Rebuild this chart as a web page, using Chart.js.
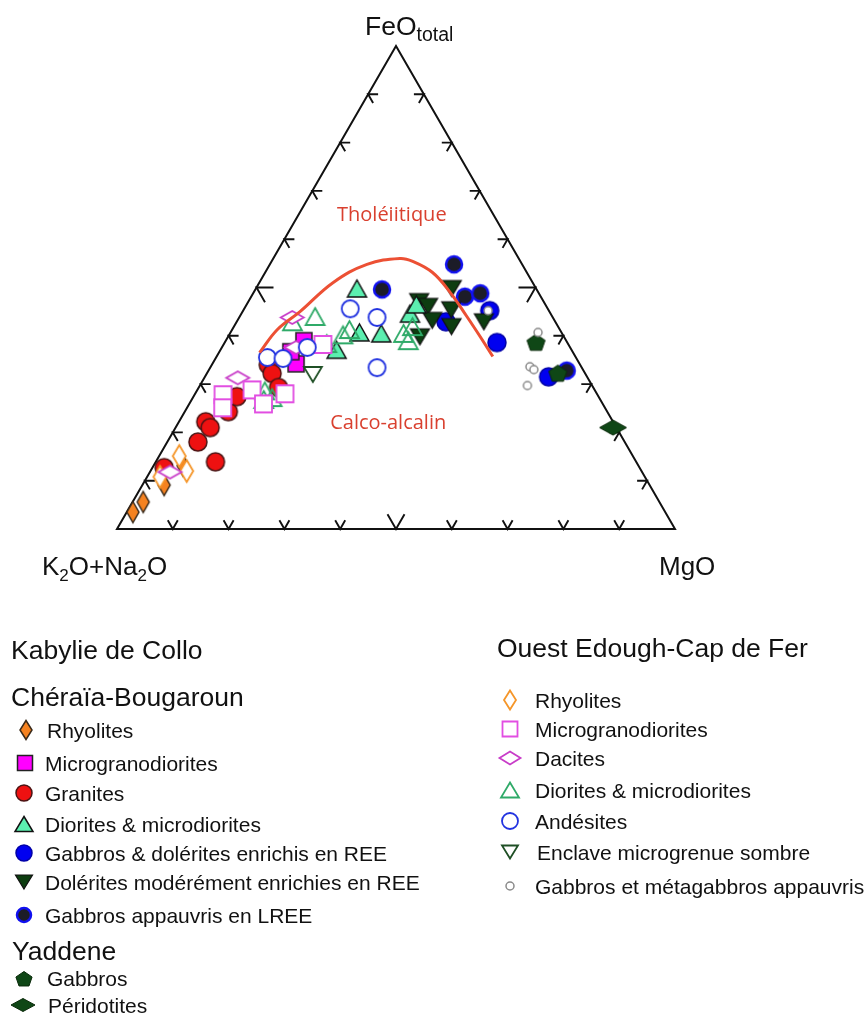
<!DOCTYPE html>
<html>
<head>
<meta charset="utf-8">
<script src="https://cdn.jsdelivr.net/npm/chart.js@4.4.1/dist/chart.umd.min.js"></script>
<style>
  html, body { margin: 0; padding: 0; background: #fff; }
  canvas { display: block; }
</style>
</head>
<body>
<canvas id="afm" width="865" height="1014"></canvas>
<script>
// AFM ternary diagram, every point is [K2O+Na2O, FeOtotal, MgO] in %

// Kabylie de Collo - Chéraïa-Bougaroun
const cbRhyolites = [[95.4, 3.5, 1.1], [92.5, 5.6, 1.9], [87.0, 9.1, 3.9], [81.6, 13.1, 5.3]];
const cbMicrogranodiorites = [[47.0, 39.0, 14.0], [50.8, 34.2, 15.0], [50.5, 36.7, 12.8]];
const cbGranites = [
  [85.2, 12.7, 2.1], [76.5, 18.0, 5.5], [73.0, 22.2, 4.8], [72.8, 21.0, 6.2], [75.4, 13.9, 10.7],
  [67.9, 24.3, 7.8], [64.8, 27.4, 7.8], [55.9, 34.0, 10.1], [56.1, 32.2, 11.7], [56.4, 29.3, 14.3]
];
const cbDiorites = [[32.1, 49.8, 18.1], [42.1, 37.1, 20.8], [36.2, 40.7, 23.1], [32.4, 40.5, 27.1], [25.2, 44.6, 30.2], [23.1, 46.5, 30.4]];
const cbGabbrosEnrichis = [[19.6, 42.9, 37.5], [10.6, 45.2, 44.2], [12.6, 38.6, 48.8], [6.9, 31.5, 61.6]];
const cbDolerites = [
  [22.3, 47.1, 30.6], [21.2, 46.1, 32.7], [21.9, 43.2, 34.9], [25.8, 39.8, 34.4],
  [15.1, 49.8, 35.1], [17.4, 45.4, 37.2], [19.1, 41.9, 39.0], [12.8, 42.9, 44.3]
];
const cbGabbrosAppauvris = [[12.2, 54.8, 33.0], [27.7, 49.6, 22.7], [13.6, 48.1, 38.3], [10.5, 48.8, 40.7], [3.0, 32.8, 64.2]];

// Yaddene
const ydGabbros = [[5.5, 38.8, 55.7], [4.8, 32.4, 62.8]];
const ydPeridotites = [[0.6, 21.0, 78.4]];

// Ouest Edough-Cap de Fer
const oeRhyolites = [[86.9, 10.8, 2.3], [81.3, 15.1, 3.6], [81.5, 12.0, 6.5]];
const oeMicrogranodiorites = [[67.1, 27.8, 5.1], [68.5, 25.1, 6.4], [61.4, 28.8, 9.8], [60.8, 25.9, 13.3], [55.9, 28.0, 16.1], [44.0, 38.2, 17.8]];
const oeDacites = [[84.6, 11.8, 3.6], [62.7, 31.3, 6.0], [46.7, 43.8, 9.5], [49.1, 37.6, 13.3]];
const oeDiorites = [
  [42.5, 44.0, 13.5], [39.4, 40.2, 20.4], [37.7, 41.3, 21.0], [43.2, 38.4, 18.4], [28.4, 40.5, 31.1], [28.3, 39.0, 32.7],
  [26.1, 41.9, 32.0], [59.2, 28.6, 12.2], [58.6, 27.2, 14.2], [60.3, 26.8, 12.9], [47.1, 42.9, 10.0]
];
const oeAndesites = [[55.3, 35.5, 9.2], [52.6, 35.3, 12.1], [47.1, 37.6, 15.3], [35.4, 45.6, 19.0], [31.5, 43.8, 24.7], [36.7, 33.4, 29.9]];
const oeEnclave = [[48.9, 32.0, 19.1]];
const oeGabbros = [[4.2, 40.7, 55.1], [9.2, 33.6, 57.2], [8.8, 33.0, 58.2], [11.6, 29.7, 58.7], [10.9, 45.2, 43.9]];

// Tholeiitic / calc-alkaline boundary
const boundaryCurve = [
  [56.2, 36.5, 7.3], [50.6, 41.3, 8.1], [44.7, 45.0, 10.3], [35.8, 51.0, 13.2], [27.8, 54.8, 17.4], [21.3, 56.0, 22.7],
  [19.3, 55.4, 25.3], [16.9, 53.1, 30.0], [15.8, 49.0, 35.2], [15.3, 44.0, 40.7], [15.0, 39.8, 45.2], [14.8, 35.7, 49.5]
];

const tickValues = [10, 20, 30, 40, 50, 60, 70, 80, 90];

const H = Math.sqrt(3) / 2;
function toXY(p) {
  const s = p[0] + p[1] + p[2];
  const f = 100 * p[1] / s, m = 100 * p[2] / s;
  return { x: m + f / 2, y: f * H };
}

function shapePath(ctx, shape, x, y, w, h) {
  ctx.beginPath();
  if (shape === 'circle') {
    ctx.arc(x, y, w / 2, 0, Math.PI * 2);
  } else if (shape === 'square') {
    ctx.rect(x - w / 2, y - h / 2, w, h);
  } else if (shape === 'triangle') {
    ctx.moveTo(x, y - h / 2); ctx.lineTo(x + w / 2, y + h / 2); ctx.lineTo(x - w / 2, y + h / 2); ctx.closePath();
  } else if (shape === 'triangleDown') {
    ctx.moveTo(x, y + h / 2); ctx.lineTo(x + w / 2, y - h / 2); ctx.lineTo(x - w / 2, y - h / 2); ctx.closePath();
  } else if (shape === 'diamond') {
    ctx.moveTo(x, y - h / 2); ctx.lineTo(x + w / 2, y); ctx.lineTo(x, y + h / 2); ctx.lineTo(x - w / 2, y); ctx.closePath();
  } else if (shape === 'pentagon') {
    for (let i = 0; i < 5; i++) {
      const a = -Math.PI / 2 + i * 2 * Math.PI / 5;
      const px = x + Math.cos(a) * w / 2, py = y + 1.5 + Math.sin(a) * h / 2;
      if (i === 0) ctx.moveTo(px, py); else ctx.lineTo(px, py);
    }
    ctx.closePath();
  }
}

function drawMarker(ctx, st, x, y, w, h) {
  shapePath(ctx, st.shape, x, y, w, h);
  if (st.fill) { ctx.fillStyle = st.fill; ctx.fill(); }
  if (st.stroke) { ctx.strokeStyle = st.stroke; ctx.lineWidth = st.lw; ctx.lineJoin = 'miter'; ctx.stroke(); }
}

function markerCanvas(st) {
  const pad = Math.ceil(st.lw) + 2;
  const c = document.createElement('canvas');
  c.width = Math.ceil(st.w) + pad * 2;
  c.height = Math.ceil(st.h) + pad * 2;
  drawMarker(c.getContext('2d'), st, c.width / 2, c.height / 2, st.w, st.h);
  return c;
}

const styles = {
  oeGab:  { shape: 'circle', w: 8, h: 8, fill: '#fff', stroke: '#8a8a8a', lw: 1.5, lw2: 8, lh2: 8 },
  oeAnd:  { shape: 'circle', w: 17, h: 17, fill: '#fff', stroke: '#2233e0', lw: 1.8, lw2: 16, lh2: 16 },
  oeMic:  { shape: 'square', w: 17, h: 17, fill: '#fff', stroke: '#e24ee2', lw: 1.8, lw2: 15, lh2: 15 },
  oeDac:  { shape: 'diamond', w: 23, h: 13, fill: '#fff', stroke: '#c83cc8', lw: 1.8, lw2: 21, lh2: 13 },
  oeRhy:  { shape: 'diamond', w: 13, h: 22, fill: '#fff', stroke: '#f5962a', lw: 1.8, lw2: 12, lh2: 19 },
  oeEnc:  { shape: 'triangleDown', w: 18, h: 15, fill: '#fff', stroke: '#1f4f25', lw: 1.8, lw2: 16, lh2: 13 },
  oeDio:  { shape: 'triangle', w: 19, h: 17, fill: null, stroke: '#2faa68', lw: 1.8, lw2: 18, lh2: 15 },
  cbMic:  { shape: 'square', w: 16, h: 16, fill: '#ff00ff', stroke: '#222', lw: 1.5, lw2: 15, lh2: 15 },
  cbGra:  { shape: 'circle', w: 18, h: 18, fill: '#ee1111', stroke: '#4a1414', lw: 1.5, lw2: 16, lh2: 16 },
  cbRhy:  { shape: 'diamond', w: 12, h: 21, fill: '#f58220', stroke: '#3a2a1a', lw: 1.5, lw2: 12, lh2: 19 },
  cbDio:  { shape: 'triangle', w: 19, h: 17, fill: '#5cefb0', stroke: '#111', lw: 1.5, lw2: 18, lh2: 15 },
  cbDol:  { shape: 'triangleDown', w: 19, h: 16, fill: '#0d3d10', stroke: '#111', lw: 1.2, lw2: 17, lh2: 14 },
  ydGab:  { shape: 'pentagon', w: 19, h: 18, fill: '#0f4716', stroke: '#0a2a0a', lw: 1, lw2: 17, lh2: 16 },
  cbEnr:  { shape: 'circle', w: 18, h: 18, fill: '#0000f0', stroke: '#0000a8', lw: 1.5, lw2: 16, lh2: 16 },
  cbApp:  { shape: 'circle', w: 16, h: 16, fill: '#1c1c28', stroke: '#1010f0', lw: 2.5, lw2: 14, lh2: 14 },
  ydPer:  { shape: 'diamond', w: 27, h: 15, fill: '#0f4716', stroke: '#0a2a0a', lw: 1, lw2: 24, lh2: 13 }
};

const series = [
  { key: 'oeGab', label: 'Gabbros et métagabbros appauvris', data: oeGabbros },
  { key: 'oeAnd', label: 'Andésites', data: oeAndesites },
  { key: 'oeMic', label: 'Microgranodiorites', data: oeMicrogranodiorites },
  { key: 'oeDac', label: 'Dacites', data: oeDacites },
  { key: 'oeRhy', label: 'Rhyolites', data: oeRhyolites },
  { key: 'oeEnc', label: 'Enclave microgrenue sombre', data: oeEnclave },
  { key: 'oeDio', label: 'Diorites & microdiorites', data: oeDiorites },
  { key: 'cbMic', label: 'Microgranodiorites', data: cbMicrogranodiorites },
  { key: 'cbGra', label: 'Granites', data: cbGranites },
  { key: 'cbRhy', label: 'Rhyolites', data: cbRhyolites },
  { key: 'cbDio', label: 'Diorites & microdiorites', data: cbDiorites },
  { key: 'ydGab', label: 'Gabbros', data: ydGabbros },
  { key: 'cbDol', label: 'Dolérites modérément enrichies en REE', data: cbDolerites },
  { key: 'cbEnr', label: 'Gabbros & dolérites enrichis en REE', data: cbGabbrosEnrichis },
  { key: 'cbApp', label: 'Gabbros appauvris en LREE', data: cbGabbrosAppauvris },
  { key: 'ydPer', label: 'Péridotites', data: ydPeridotites }
];

const datasets = [{
  label: 'limite',
  data: boundaryCurve.map(toXY),
  showLine: true,
  borderColor: '#ec5034',
  borderWidth: 3,
  pointRadius: 0,
  tension: 0.4,
  clip: false
}];
series.forEach(s => {
  datasets.push({
    label: s.label,
    key: s.key,
    data: s.data.map(toXY),
    pointStyle: markerCanvas(styles[s.key]),
    pointRadius: 8,
    clip: false
  });
});

const LABEL_FONT = '"Liberation Sans", Arial, sans-serif';

function richText(ctx, parts, x, y, size, subSize) {
  parts.forEach(p => {
    ctx.font = (p.sub ? subSize : size) + 'px ' + LABEL_FONT;
    ctx.fillText(p.t, x, y + (p.sub ? 6 : 0));
    x += ctx.measureText(p.t).width;
  });
}

const framePlugin = {
  id: 'frame',
  beforeDatasetsDraw(chart) {
    const ctx = chart.ctx;
    const sx = chart.scales.x, sy = chart.scales.y;
    const P = (p) => { const q = toXY(p); return [sx.getPixelForValue(q.x), sy.getPixelForValue(q.y)]; };
    const a = P([100, 0, 0]), f = P([0, 100, 0]), m = P([0, 0, 100]);
    ctx.save();
    ctx.strokeStyle = '#111';
    ctx.lineWidth = 2;
    ctx.lineJoin = 'miter';
    ctx.beginPath();
    ctx.moveTo(a[0], a[1]); ctx.lineTo(f[0], f[1]); ctx.lineTo(m[0], m[1]); ctx.closePath();
    ctx.stroke();

    ctx.lineWidth = 1.9;
    const c = 0.5, s = H;
    const arms = (pt, d1, d2, L) => {
      ctx.beginPath();
      ctx.moveTo(pt[0] + d1[0] * L, pt[1] + d1[1] * L);
      ctx.lineTo(pt[0], pt[1]);
      ctx.lineTo(pt[0] + d2[0] * L, pt[1] + d2[1] * L);
      ctx.stroke();
    };
    tickValues.forEach(t => {
      const L = t === 50 ? 17 : 10;
      arms(P([100 - t, 0, t]), [-c, -s], [c, -s], L);          // base
      arms(P([100 - t, t, 0]), [1, 0], [c, s], L);              // left side
      arms(P([0, t, 100 - t]), [-1, 0], [-c, s], L);            // right side
    });

    ctx.fillStyle = '#d9402f';
    ctx.font = '20px "Open Sans", sans-serif';
    ctx.textAlign = 'center';
    ctx.textBaseline = 'middle';
    const th = P([18.3, 64.9, 16.8]);
    ctx.fillText('Tholéiitique', th[0], th[1]);
    const ca = P([40.5, 21.8, 37.7]);
    ctx.fillText('Calco-alcalin', ca[0], ca[1]);

    // vertex labels
    ctx.fillStyle = '#111';
    ctx.textAlign = 'left';
    ctx.textBaseline = 'alphabetic';
    richText(ctx, [{ t: 'FeO' }, { t: 'total', sub: true }], f[0] - 31, f[1] - 11, 26.5, 19.5);
    richText(ctx, [{ t: 'K' }, { t: '2', sub: true }, { t: 'O+Na' }, { t: '2', sub: true }, { t: 'O' }], a[0] - 75, a[1] + 46, 26, 17);
    richText(ctx, [{ t: 'MgO' }], m[0] - 16, m[1] + 46, 26, 17);
    ctx.restore();
  },
  afterDraw(chart) {
    const ctx = chart.ctx;
    const byKey = {};
    chart.data.datasets.forEach(d => { if (d.key) byKey[d.key] = d; });
    ctx.save();
    ctx.textAlign = 'left';
    ctx.textBaseline = 'alphabetic';
    const header = (t, x, y) => { ctx.font = '26.5px ' + LABEL_FONT; ctx.fillStyle = '#111'; ctx.fillText(t, x, y); };
    const item = (key, mx, tx, cy) => {
      const st = styles[key];
      drawMarker(ctx, st, mx, cy, st.lw2, st.lh2);
      ctx.font = '21px ' + LABEL_FONT;
      ctx.fillStyle = '#111';
      ctx.fillText(byKey[key].label, tx, cy + 7.5);
    };
    header('Kabylie de Collo', 11, 659);
    header('Chéraïa-Bougaroun', 11, 706);
    item('cbRhy', 26, 47, 730);
    item('cbMic', 25, 45, 763);
    item('cbGra', 24, 45, 793);
    item('cbDio', 24, 45, 824);
    item('cbEnr', 24, 45, 853);
    item('cbDol', 24, 45, 882);
    item('cbApp', 24, 45, 915);
    header('Yaddene', 12, 960);
    item('ydGab', 24, 47, 978);
    item('ydPer', 23, 48, 1005);

    header('Ouest Edough-Cap de Fer', 497, 657);
    item('oeRhy', 510, 535, 700);
    item('oeMic', 510, 535, 729);
    item('oeDac', 510, 535, 758);
    item('oeDio', 510, 535, 790);
    item('oeAnd', 510, 535, 821);
    item('oeEnc', 510, 537, 852);
    item('oeGab', 510, 535, 886);
    ctx.restore();
  }
};

new Chart(document.getElementById('afm'), {
  type: 'scatter',
  data: { datasets: datasets },
  options: {
    responsive: false,
    animation: false,
    events: [],
    layout: { padding: { left: 117, right: 190, top: 46, bottom: 485 } },
    scales: {
      x: { type: 'linear', min: 0, max: 100, display: false },
      y: { type: 'linear', min: 0, max: 100 * H, display: false }
    },
    plugins: {
      legend: { display: false },
      tooltip: { enabled: false }
    }
  },
  plugins: [framePlugin]
});
</script>
</body>
</html>
